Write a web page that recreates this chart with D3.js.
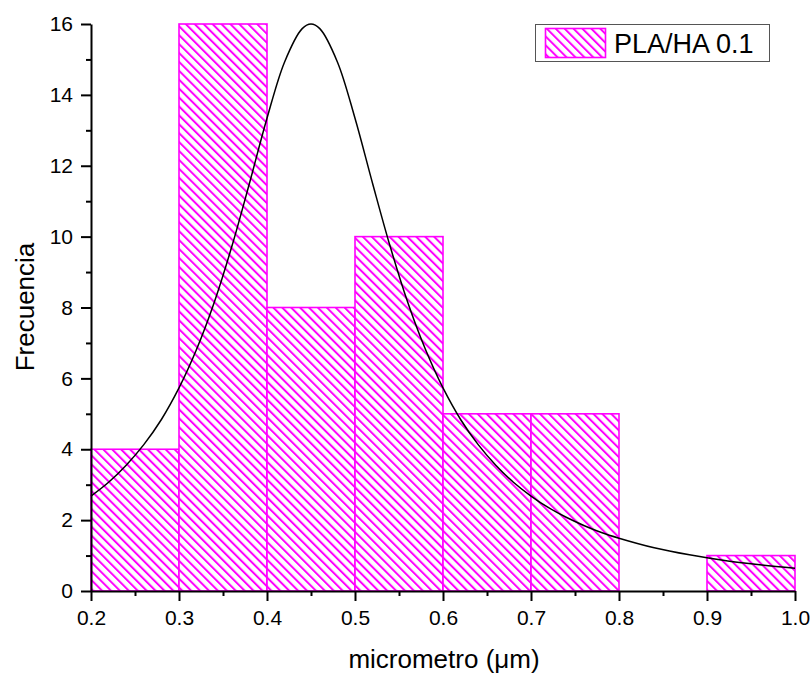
<!DOCTYPE html>
<html><head><meta charset="utf-8">
<script src="https://cdn.jsdelivr.net/npm/d3@7"></script>
<style>body{margin:0;background:#fff}svg{display:block}text{font-family:"Liberation Sans",Arial,sans-serif}</style>
</head><body>
<script>
const binStarts = [0.2, 0.3, 0.4, 0.5, 0.6, 0.7, 0.8, 0.9];
const binWidth = 0.1;
const counts = [4, 16, 8, 10, 5, 5, 0, 1];
const fitX = [0.20,0.22,0.24,0.26,0.28,0.30,0.32,0.34,0.36,0.38,0.40,0.42,0.44,0.45,0.46,0.48,0.50,0.52,0.54,0.56,0.58,0.60,0.62,0.64,0.66,0.68,0.70,0.72,0.74,0.76,0.78,0.80,0.84,0.88,0.92,0.96,1.00];
const fitY = [2.68,3.07,3.55,4.13,4.84,5.73,6.82,8.14,9.72,11.50,13.34,14.93,15.87,16.0,15.87,14.93,13.34,11.50,9.72,8.14,6.82,5.73,4.84,4.13,3.55,3.07,2.68,2.35,2.08,1.85,1.65,1.49,1.22,1.02,0.86,0.74,0.64];
const xMajor = [0.2,0.3,0.4,0.5,0.6,0.7,0.8,0.9,1.0];
const xMinor = [0.25,0.35,0.45,0.55,0.65,0.75,0.85,0.95];
const yMajor = [0,2,4,6,8,10,12,14,16];
const yMinor = [1,3,5,7,9,11,13,15];
const seriesName = "PLA/HA 0.1";
const xTitle = "micrometro (\u03BCm)";
const yTitle = "Frecuencia";

const W = 811, H = 677;
const magenta = "#ff00ff";
const svg = d3.select("body").append("svg").attr("width", W).attr("height", H);
const x = d3.scaleLinear().domain([0.2, 1.0]).range([91, 795]);
const y = d3.scaleLinear().domain([0, 16]).range([591, 24]);

const defs = svg.append("defs");
const pat = defs.append("pattern").attr("id","hatch").attr("patternUnits","userSpaceOnUse")
  .attr("width",6.3).attr("height",6.3).attr("patternTransform","rotate(-45)");
pat.append("rect").attr("width",6.3).attr("height",6.3).attr("fill","#fff");
pat.append("line").attr("x1",1).attr("x2",1).attr("y1",0).attr("y2",6.3)
  .attr("stroke",magenta).attr("stroke-width",2);

const bars = binStarts.map((s,i)=>({s, c: counts[i]})).filter(d=>d.c>0);
svg.append("g").selectAll("rect").data(bars).join("rect")
  .attr("x", d=>x(d.s)).attr("width", d=>x(d.s+binWidth)-x(d.s))
  .attr("y", d=>y(d.c)).attr("height", d=>y(0)-y(d.c))
  .attr("fill","url(#hatch)").attr("stroke",magenta).attr("stroke-width",1.6);

const line = d3.line().x((d,i)=>x(fitX[i])).y(d=>y(d)).curve(d3.curveCatmullRom);
svg.append("path").datum(fitY).attr("d", line).attr("fill","none").attr("stroke","#000").attr("stroke-width",1.5);

function styleAxis(g){
  g.selectAll("path.domain").attr("stroke","#000").attr("stroke-width",2);
  g.selectAll(".tick line").attr("stroke","#000").attr("stroke-width",2);
  g.selectAll("text").attr("fill","#000").style("font-size","21px").style("font-family","'Liberation Sans',Arial,sans-serif");
}
const gx = svg.append("g").attr("transform","translate(0,591)")
  .call(d3.axisBottom(x).tickValues(xMajor).tickFormat(d3.format(".1f")).tickSize(10).tickSizeOuter(0).tickPadding(9));
styleAxis(gx);
const gxm = svg.append("g").attr("transform","translate(0,591)")
  .call(d3.axisBottom(x).tickValues(xMinor).tickFormat("").tickSize(5).tickSizeOuter(0));
styleAxis(gxm); gxm.select("path.domain").remove();

const gy = svg.append("g").attr("transform","translate(91,0)")
  .call(d3.axisLeft(y).tickValues(yMajor).tickFormat(d3.format("d")).tickSize(10).tickSizeOuter(0).tickPadding(8));
styleAxis(gy);
const gym = svg.append("g").attr("transform","translate(91,0)")
  .call(d3.axisLeft(y).tickValues(yMinor).tickFormat("").tickSize(5).tickSizeOuter(0));
styleAxis(gym); gym.select("path.domain").remove();

svg.append("text").attr("x",444).attr("y",668).attr("text-anchor","middle")
  .style("font-size","26px").text(xTitle);
svg.append("text").attr("transform","translate(34,307) rotate(-90)").attr("text-anchor","middle")
  .style("font-size","26px").text(yTitle);

// legend
const lg = svg.append("g");
lg.append("rect").attr("x",535.5).attr("y",24.5).attr("width",234).attr("height",37)
  .attr("fill","#fff").attr("stroke","#555").attr("stroke-width",1);
lg.append("rect").attr("x",545.5).attr("y",28.5).attr("width",60).attr("height",29)
  .attr("fill","url(#hatch)").attr("stroke",magenta).attr("stroke-width",1.6);
lg.append("text").attr("x",614).attr("y",53).style("font-size","27px").attr("fill","#000").text(seriesName);
</script>
</body></html>
